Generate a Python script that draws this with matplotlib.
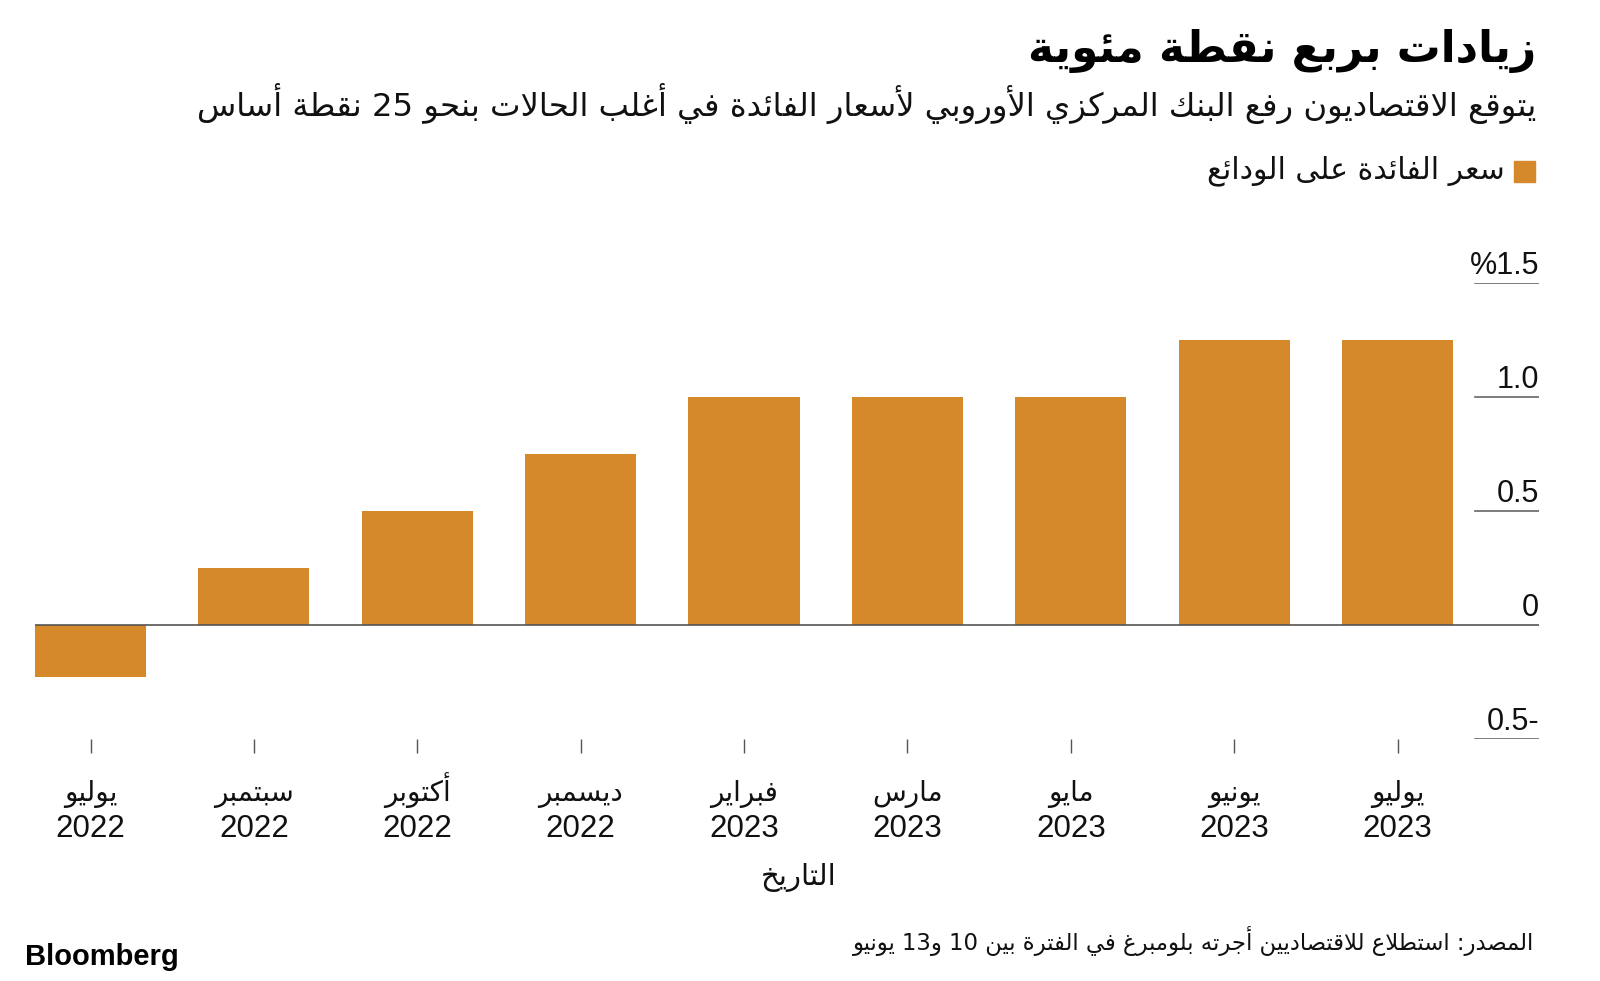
import re
import matplotlib
matplotlib.use('Agg')
import matplotlib.pyplot as plt
import matplotlib.transforms as mtransforms

# chart data
months = ['يوليو', 'سبتمبر', 'أكتوبر', 'ديسمبر', 'فبراير', 'مارس', 'مايو', 'يونيو', 'يوليو']
years = ['2022', '2022', '2022', '2022', '2023', '2023', '2023', '2023', '2023']
rates = [-0.23, 0.25, 0.5, 0.75, 1.0, 1.0, 1.0, 1.25, 1.25]
y_ticks = [-0.5, 0, 0.5, 1.0, 1.5]
y_labels = ['0.5-', '0', '0.5', '1.0', '%1.5']

title = 'زيادات بربع نقطة مئوية'
subtitle = 'يتوقع الاقتصاديون رفع البنك المركزي الأوروبي لأسعار الفائدة في أغلب الحالات بنحو 25 نقطة أساس'
legend_label = 'سعر الفائدة على الودائع'
x_title = 'التاريخ'
source = 'المصدر: استطلاع للاقتصاديين أجرته بلومبرغ في الفترة بين 10 و13 يونيو'

BAR_COLOR = '#d6892a'

# matplotlib does no Arabic shaping, so map letters to presentation forms
# (char, first codepoint in Presentation Forms-B, number of forms)
_table = [
    ('ء', 0xFE80, 1), ('آ', 0xFE81, 2), ('أ', 0xFE83, 2), ('ؤ', 0xFE85, 2),
    ('إ', 0xFE87, 2), ('ئ', 0xFE89, 4), ('ا', 0xFE8D, 2), ('ب', 0xFE8F, 4),
    ('ة', 0xFE93, 2), ('ت', 0xFE95, 4), ('ث', 0xFE99, 4), ('ج', 0xFE9D, 4),
    ('ح', 0xFEA1, 4), ('خ', 0xFEA5, 4), ('د', 0xFEA9, 2), ('ذ', 0xFEAB, 2),
    ('ر', 0xFEAD, 2), ('ز', 0xFEAF, 2), ('س', 0xFEB1, 4), ('ش', 0xFEB5, 4),
    ('ص', 0xFEB9, 4), ('ض', 0xFEBD, 4), ('ط', 0xFEC1, 4), ('ظ', 0xFEC5, 4),
    ('ع', 0xFEC9, 4), ('غ', 0xFECD, 4), ('ف', 0xFED1, 4), ('ق', 0xFED5, 4),
    ('ك', 0xFED9, 4), ('ل', 0xFEDD, 4), ('م', 0xFEE1, 4), ('ن', 0xFEE5, 4),
    ('ه', 0xFEE9, 4), ('و', 0xFEED, 2), ('ى', 0xFEEF, 2), ('ي', 0xFEF1, 4),
]
FORMS = {c: (base, n) for c, base, n in _table}
LAM_ALEF = {'آ': 0xFEF5, 'أ': 0xFEF7, 'إ': 0xFEF9, 'ا': 0xFEFB}


def _n(c):
    return FORMS[c][1] if c in FORMS else 0


def ar(text):
    chars = list(text)
    out = []
    i = 0
    while i < len(chars):
        c = chars[i]
        if c not in FORMS:
            out.append(c)
            i += 1
            continue
        prev = chars[i - 1] if i > 0 else ''
        nxt = chars[i + 1] if i + 1 < len(chars) else ''
        jp = _n(prev) == 4 and _n(c) >= 2
        if c == 'ل' and nxt in LAM_ALEF:
            out.append(chr(LAM_ALEF[nxt] + (1 if jp else 0)))
            i += 2
            continue
        jn = _n(c) == 4 and _n(nxt) >= 2
        base, n = FORMS[c]
        idx = (1 if jp else 0) + (2 if jn else 0)
        if idx >= n:
            idx = 1 if jp else 0
        out.append(chr(base + idx))
        i += 1
    visual = ''.join(out)[::-1]
    # numbers keep left-to-right order
    return re.sub(r'[0-9]+', lambda m: m.group()[::-1], visual)


def px(x, y):
    return x / 1600, 1 - y / 981


plt.rcParams['font.family'] = ['DejaVu Sans']
NUM_FONT = 'Liberation Sans'

fig = plt.figure(figsize=(16, 9.81), dpi=100)
ax = fig.add_axes([35 / 1600, 1 - 739 / 981, (1539 - 35) / 1600, (739 - 283.3) / 981])

x = list(range(len(rates)))
ax.bar(x, rates, width=0.68, color=BAR_COLOR, zorder=2)
ax.set_xlim(-0.34, 8.866)
ax.set_ylim(-0.5, 1.5)

for s in ax.spines.values():
    s.set_visible(False)

# zero line across, short grid lines under the labels
ax.axhline(0, color='#555555', lw=1.2, zorder=3)
for v in y_ticks:
    if v != 0:
        ax.axhline(v, xmin=0.9574, xmax=1, color='#666666', lw=1.2)

ax.set_yticks([])
lab_tr = mtransforms.offset_copy(ax.get_yaxis_transform(), fig=fig, x=0, y=9, units='dots')
for v, lab in zip(y_ticks, y_labels):
    ax.text(1.0, v, lab, transform=lab_tr, ha='right', va='baseline',
            fontsize=22, family=NUM_FONT, color='#111111')

# ticks only, month / year labels drawn as two separate rows
ax.set_xticks(x)
ax.tick_params(axis='x', length=10, width=1, color='#555555', labelbottom=False)
row_tr = mtransforms.blended_transform_factory(ax.transData, fig.transFigure)
for xi, m, yr in zip(x, months, years):
    ax.text(xi, px(0, 801)[1], ar(m), transform=row_tr, ha='center', va='baseline',
            fontsize=20, color='#111111')
    ax.text(xi, px(0, 837)[1], yr, transform=row_tr, ha='center', va='baseline',
            fontsize=22.5, family=NUM_FONT, color='#111111')

fig.text(*px(1536, 51), ar(title), ha='right', va='center', fontsize=31.5,
         fontweight='bold', color='black')
fig.text(*px(1536, 103), ar(subtitle), ha='right', va='center', fontsize=23.2,
         color='#111111')

fig.patches.append(plt.Rectangle(px(1514, 182), 21 / 1600, 21 / 981,
                                 transform=fig.transFigure, color=BAR_COLOR))
fig.text(*px(1505, 171), ar(legend_label), ha='right', va='center', fontsize=21.5,
         color='#111111')

fig.text(*px(799, 877), ar(x_title), ha='center', va='center', fontsize=21,
         color='#111111')
fig.text(*px(1534, 941), ar(source), ha='right', va='center', fontsize=16.4,
         color='#111111')
fig.text(*px(25, 957), 'Bloomberg', ha='left', va='center', fontsize=21,
         fontweight='bold', family=NUM_FONT, color='black')

fig.savefig('out.png', dpi=100)
